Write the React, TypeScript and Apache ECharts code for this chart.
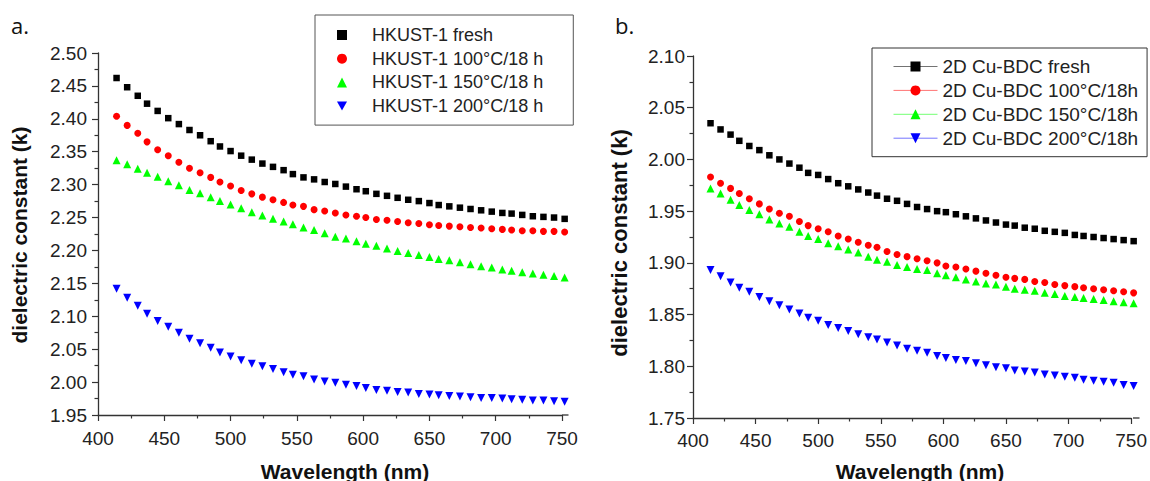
import React, { useEffect, useRef } from "react";
import * as echarts from "echarts";

// Wavelength grid (nm), shared by both panels
const wavelengthsNm = [
  414, 422, 430, 437, 445, 453, 461, 469, 477, 485, 492, 500, 508, 516, 524,
  532, 540, 547, 555, 563, 571, 579, 587, 595, 602, 610, 618, 626, 634, 642,
  650, 657, 665, 673, 681, 689, 697, 705, 712, 720, 728, 736, 744, 752,
];

// Panel a: HKUST-1
const hkustFresh = [
  2.462, 2.448, 2.435, 2.423, 2.412, 2.401, 2.392, 2.383, 2.375, 2.366, 2.358,
  2.351, 2.344, 2.338, 2.332, 2.327, 2.322, 2.316, 2.311, 2.308, 2.304, 2.301,
  2.297, 2.293, 2.29, 2.286, 2.283, 2.28, 2.277, 2.275, 2.272, 2.269, 2.267,
  2.265, 2.263, 2.261, 2.259, 2.257, 2.256, 2.254, 2.252, 2.251, 2.25, 2.248,
];
const hkust100 = [
  2.404, 2.39, 2.378, 2.365, 2.353, 2.344, 2.334, 2.325, 2.318, 2.311, 2.304,
  2.298, 2.291, 2.286, 2.281, 2.277, 2.273, 2.269, 2.267, 2.262, 2.26, 2.257,
  2.254, 2.252, 2.25, 2.247, 2.246, 2.244, 2.242, 2.241, 2.239, 2.238, 2.237,
  2.236, 2.235, 2.234, 2.233, 2.232, 2.231, 2.23, 2.23, 2.229, 2.229, 2.228,
];
const hkust150 = [
  2.337, 2.331, 2.324, 2.318, 2.312, 2.305, 2.299, 2.292, 2.287, 2.281, 2.275,
  2.27, 2.264, 2.258, 2.253, 2.248, 2.244, 2.24, 2.235, 2.231, 2.226, 2.221,
  2.218, 2.214, 2.21, 2.207, 2.203, 2.199, 2.196, 2.193, 2.19, 2.187, 2.185,
  2.182, 2.179, 2.176, 2.174, 2.171, 2.169, 2.167, 2.165, 2.163, 2.161, 2.159,
];
const hkust200 = [
  2.142, 2.128, 2.116, 2.104, 2.093, 2.084, 2.075, 2.066, 2.059, 2.052, 2.045,
  2.039, 2.033, 2.028, 2.024, 2.02, 2.015, 2.011, 2.009, 2.004, 2.001, 1.999,
  1.996, 1.994, 1.991, 1.988, 1.987, 1.985, 1.984, 1.982, 1.981, 1.98, 1.979,
  1.978, 1.977, 1.976, 1.976, 1.975, 1.974, 1.973, 1.972, 1.972, 1.971, 1.97,
];

// Panel b: 2D Cu-BDC
const cuBdcFresh = [
  2.035, 2.029, 2.024, 2.018, 2.013, 2.009, 2.004, 2.0, 1.996, 1.992, 1.987,
  1.985, 1.981, 1.977, 1.974, 1.971, 1.968, 1.965, 1.962, 1.96, 1.957, 1.954,
  1.952, 1.95, 1.949, 1.947, 1.945, 1.943, 1.941, 1.939, 1.937, 1.936, 1.934,
  1.933, 1.931, 1.93, 1.929, 1.927, 1.926, 1.925, 1.924, 1.923, 1.922, 1.921,
];
const cuBdc100 = [
  1.983, 1.977, 1.972, 1.967, 1.962, 1.957, 1.952, 1.948, 1.945, 1.94, 1.936,
  1.933, 1.93, 1.926, 1.923, 1.92, 1.917, 1.915, 1.911, 1.908, 1.906, 1.904,
  1.902, 1.9, 1.897, 1.896, 1.894, 1.892, 1.89, 1.888, 1.886, 1.885, 1.884,
  1.882, 1.881, 1.879, 1.878, 1.877, 1.876, 1.875, 1.874, 1.873, 1.872, 1.871,
];
const cuBdc150 = [
  1.972, 1.967, 1.961, 1.956, 1.951, 1.947, 1.942, 1.938, 1.935, 1.93, 1.926,
  1.923, 1.919, 1.916, 1.913, 1.91, 1.906, 1.903, 1.901, 1.898, 1.896, 1.894,
  1.893, 1.89, 1.888, 1.886, 1.884, 1.882, 1.88, 1.879, 1.877, 1.875, 1.874,
  1.873, 1.871, 1.87, 1.868, 1.867, 1.866, 1.865, 1.864, 1.863, 1.862, 1.861,
];
const cuBdc200 = [
  1.893, 1.887, 1.881, 1.876, 1.872, 1.867, 1.863, 1.859, 1.855, 1.851, 1.847,
  1.844, 1.84, 1.837, 1.834, 1.831, 1.828, 1.826, 1.823, 1.82, 1.817, 1.815,
  1.813, 1.81, 1.808, 1.806, 1.805, 1.803, 1.801, 1.799, 1.798, 1.796, 1.795,
  1.794, 1.792, 1.791, 1.79, 1.789, 1.787, 1.786, 1.785, 1.784, 1.782, 1.781,
];

const namesA = [
  "HKUST-1 fresh",
  "HKUST-1 100°C/18 h",
  "HKUST-1 150°C/18 h",
  "HKUST-1 200°C/18 h",
];
const namesB = [
  "2D Cu-BDC fresh",
  "2D Cu-BDC 100°C/18h",
  "2D Cu-BDC 150°C/18h",
  "2D Cu-BDC 200°C/18h",
];
const seriesA = [hkustFresh, hkust100, hkust150, hkust200];
const seriesB = [cuBdcFresh, cuBdc100, cuBdc150, cuBdc200];

const xTitle = "Wavelength (nm)";
const yTitle = "dielectric constant (k)";

const FONT = '"Liberation Sans", Arial, Helvetica, sans-serif';
const AXIS = "#333333";

const markers = [
  { symbol: "rect", size: 6.5, rotate: 0, color: "#000000", legendIcon: "rect" },
  { symbol: "circle", size: 7, rotate: 0, color: "#ff0000", legendIcon: "circle" },
  { symbol: "triangle", size: 8, rotate: 0, color: "#00ff00", legendIcon: "triangle" },
  { symbol: "triangle", size: 8, rotate: 180, color: "#0000ff", legendIcon: "path://M0,0L10,0L5,9Z" },
];

const pair = (ys: number[]) => wavelengthsNm.map((w, i) => [w, ys[i]]);

function xAxisFor(gridIndex: number, margin: number) {
  return {
    type: "value",
    gridIndex,
    min: 400,
    max: 750,
    interval: 50,
    axisLine: { show: true, onZero: false, lineStyle: { color: AXIS, width: 1.3 } },
    axisTick: { show: true, inside: false, length: 6, lineStyle: { color: AXIS, width: 1.2 } },
    minorTick: { show: true, splitNumber: 2, length: 3.5, lineStyle: { color: AXIS, width: 1.2 } },
    splitLine: { show: false },
    minorSplitLine: { show: false },
    axisLabel: { fontSize: 19, color: "#222", fontFamily: FONT, margin },
  };
}

function yAxisFor(gridIndex: number, min: number, max: number, margin: number) {
  return {
    type: "value",
    gridIndex,
    min,
    max,
    interval: 0.05,
    axisLine: { show: true, onZero: false, lineStyle: { color: AXIS, width: 1.3 } },
    axisTick: { show: true, inside: false, length: 6, lineStyle: { color: AXIS, width: 1.2 } },
    minorTick: { show: true, splitNumber: 2, length: 3.5, lineStyle: { color: AXIS, width: 1.2 } },
    splitLine: { show: false },
    minorSplitLine: { show: false },
    axisLabel: {
      fontSize: 19,
      color: "#222",
      fontFamily: FONT,
      margin,
      formatter: (v: number) => v.toFixed(2),
    },
  };
}

export default function App() {
  const ref = useRef<HTMLDivElement>(null);

  useEffect(() => {
    if (!ref.current) return;
    const chart = echarts.init(ref.current, null, { renderer: "svg" });

    const series: any[] = [];
    seriesA.forEach((ys, i) => {
      const m = markers[i];
      series.push({
        type: "scatter",
        name: namesA[i],
        xAxisIndex: 0,
        yAxisIndex: 0,
        data: pair(ys),
        symbol: m.symbol,
        symbolSize: m.size,
        symbolRotate: m.rotate,
        color: m.color,
        itemStyle: { color: m.color, opacity: 1 },
        clip: false,
        silent: true,
      });
    });
    seriesB.forEach((ys, i) => {
      const m = markers[i];
      series.push({
        type: "line",
        name: namesB[i],
        xAxisIndex: 1,
        yAxisIndex: 1,
        data: pair(ys),
        symbol: m.symbol,
        symbolSize: m.size,
        symbolRotate: m.rotate,
        showSymbol: true,
        showAllSymbol: true,
        color: m.color,
        itemStyle: { color: m.color, opacity: 1 },
        lineStyle: { color: m.color, width: 0, opacity: 0 },
        clip: false,
        silent: true,
      });
    });

    const titleFont = (size: number) => `bold ${size}px ${FONT}`;

    chart.setOption({
      animation: false,
      backgroundColor: "#ffffff",
      grid: [
        { left: 98, top: 53, width: 464, height: 362 },
        { left: 693, top: 56, width: 440, height: 362 },
      ],
      xAxis: [xAxisFor(0, 14), xAxisFor(1, 13)],
      yAxis: [yAxisFor(0, 1.95, 2.5, 11), yAxisFor(1, 1.75, 2.1, 8)],
      legend: [
        {
          data: namesA.map((name, i) => ({
            name,
            icon: markers[i].legendIcon,
            itemStyle: { color: markers[i].color, opacity: 1 },
          })),
          orient: "vertical",
          left: 315,
          top: 15,
          padding: [11, 30, 10, 22],
          itemWidth: 10,
          itemHeight: 10,
          itemGap: 5.7,
          symbolKeepAspect: true,
          borderColor: "#555",
          borderWidth: 1,
          selectedMode: false,
          textStyle: { fontSize: 18, color: "#222", fontFamily: FONT, padding: [0, 0, 0, 20] },
        },
        {
          data: namesB,
          orient: "vertical",
          left: 872,
          top: 48,
          padding: [9, 9, 9, 21],
          itemWidth: 44,
          itemHeight: 12.5,
          itemGap: 4.9,
          borderColor: "#333",
          borderWidth: 1,
          selectedMode: false,
          lineStyle: { width: 1, opacity: 0.55 },
          textStyle: { fontSize: 19, color: "#222", fontFamily: FONT },
        },
      ],
      graphic: [
        {
          type: "text",
          x: 11,
          y: 24.5,
          style: { text: "a.", font: '22px "Open Sans", sans-serif', fill: "#111", align: "left", verticalAlign: "middle" },
        },
        {
          type: "text",
          x: 615,
          y: 24.5,
          style: { text: "b.", font: '22px "Open Sans", sans-serif', fill: "#111", align: "left", verticalAlign: "middle" },
        },
        {
          type: "text",
          x: 345,
          y: 471,
          style: { text: xTitle, font: titleFont(21), fill: "#111", align: "center", verticalAlign: "middle" },
        },
        {
          type: "text",
          x: 920,
          y: 471,
          style: { text: xTitle, font: titleFont(21), fill: "#111", align: "center", verticalAlign: "middle" },
        },
        {
          type: "text",
          x: 19,
          y: 235,
          rotation: Math.PI / 2,
          style: { text: yTitle, font: titleFont(21), fill: "#111", align: "center", verticalAlign: "middle" },
        },
        {
          type: "text",
          x: 619,
          y: 243,
          rotation: Math.PI / 2,
          style: { text: yTitle, font: titleFont(22), fill: "#111", align: "center", verticalAlign: "middle" },
        },
        {
          type: "line",
          shape: { x1: 562, y1: 415, x2: 568.5, y2: 415 },
          style: { stroke: AXIS, lineWidth: 1.3 },
        },
        {
          type: "line",
          shape: { x1: 1133, y1: 418, x2: 1139.5, y2: 418 },
          style: { stroke: AXIS, lineWidth: 1.3 },
        },
      ],
      series,
    });

    return () => chart.dispose();
  }, []);

  return (
    <div
      ref={ref}
      style={{ position: "absolute", left: 0, top: 0, width: 1150, height: 481 }}
    />
  );
}
